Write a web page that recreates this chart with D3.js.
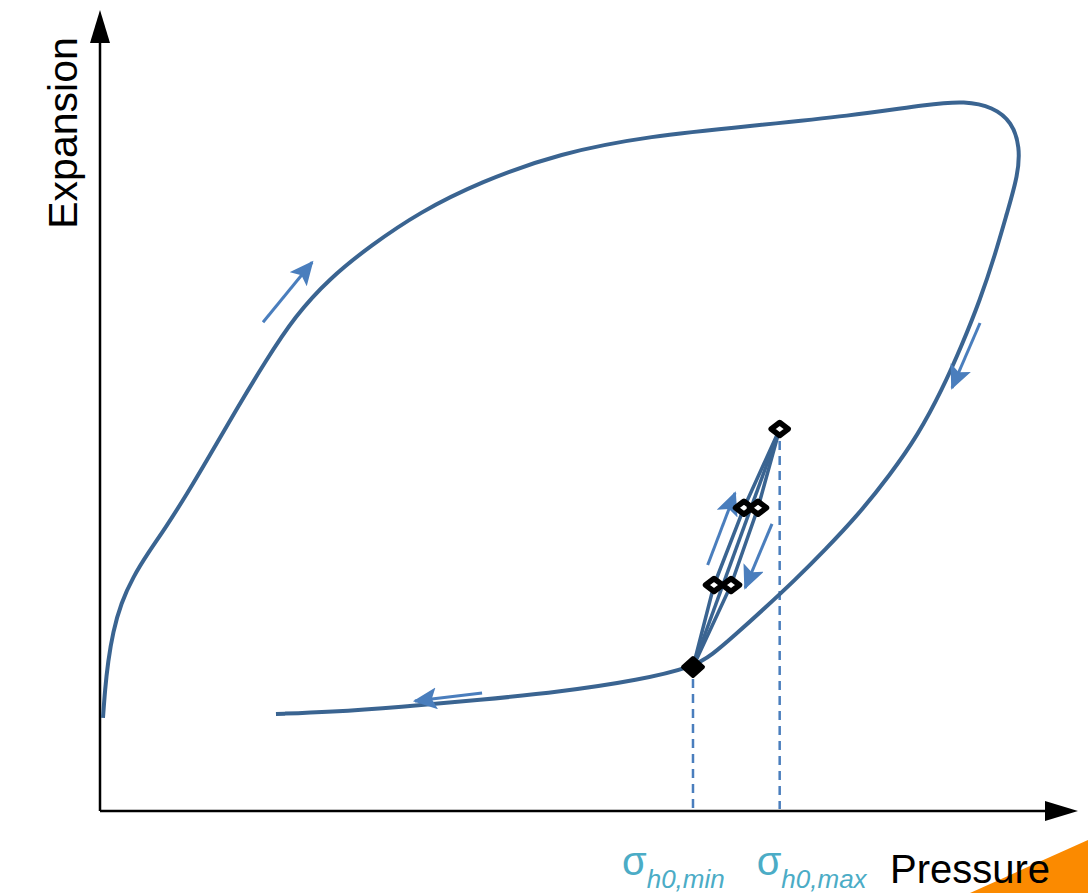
<!DOCTYPE html>
<html>
<head>
<meta charset="utf-8">
<script src="https://cdn.jsdelivr.net/npm/d3@7"></script>
<style>
  html, body { margin: 0; padding: 0; background: #fff; }
  svg { display: block; }
</style>
</head>
<body>
<svg id="chart" width="1088" height="893"></svg>
<script>
// ---- data (schematic units: pressure 0-100, expansion 0-100) ----
const loopPressure  = [0.31, 0.52, 0.83, 1.35, 2.19, 3.44, 5.0, 6.88, 9.06, 11.46, 14.17, 17.19, 20.31, 23.96, 28.13, 33.33, 39.58, 47.92, 57.29, 67.71, 78.13, 86.46, 90.1, 93.02, 95.0, 95.83, 95.63, 94.48, 93.23, 91.67, 89.79, 87.71, 85.21, 82.29, 78.96, 75.52, 72.4, 69.27, 66.15, 63.75, 61.77, 56.25, 47.92, 39.58, 31.25, 23.96, 18.33];
const loopExpansion = [11.63, 15.13, 18.63, 22.38, 26.0, 29.25, 32.25, 35.5, 39.63, 44.5, 50.13, 56.13, 61.88, 66.63, 70.63, 74.88, 78.63, 82.25, 84.38, 85.63, 86.88, 88.38, 88.75, 88.0, 86.13, 83.0, 79.5, 74.75, 69.5, 63.88, 58.25, 52.63, 47.0, 42.0, 37.0, 32.63, 28.88, 25.38, 22.0, 19.5, 18.0, 16.38, 14.88, 13.88, 13.0, 12.38, 12.13];

// minor loop reversal points: min, L1, R1, L2, R2, max
const reversalNames     = ["min", "L1", "R1", "L2", "R2", "max"];
const reversalPressure  = [61.77, 63.96, 65.73, 67.08, 68.54, 70.8];
const reversalExpansion = [18.0, 28.25, 28.25, 37.9, 37.9, 47.75];

// minor loop paths (indices into reversal arrays)
const minorPaths = [[0, 1, 3, 5], [5, 4, 2, 0], [0, 5]];

// stress markers on pressure axis
const sigmaLabels   = ["h0,min", "h0,max"];
const sigmaPressure = [61.77, 70.8];

// direction arrows: [p0, e0] -> [p1, e1]
const arrowP0 = [16.98, 91.67, 39.8, 63.3, 70.0];
const arrowE0 = [61.1, 61.0, 14.75, 30.75, 35.9];
const arrowP1 = [22.1, 88.75, 32.8, 66.15, 67.2];
const arrowE1 = [68.6, 52.9, 13.75, 39.75, 27.9];

const axisTitles = { x: "Pressure", y: "Expansion" };

// ---- drawing ----
const svg = d3.select("#chart");
const x = d3.scaleLinear().domain([0, 100]).range([100, 1060]);
const y = d3.scaleLinear().domain([0, 100]).range([811, 11]);

const curveColor = "#3a6491";
const arrowColor = "#4a7ebd";
const sigmaColor = "#4bacc6";

// orange corner
svg.append("path")
  .attr("d", "M970,893 L1088,840 L1088,893 Z")
  .attr("fill", "#fb8a00");

const defs = svg.append("defs");
defs.append("marker")
  .attr("id", "ah")
  .attr("markerUnits", "userSpaceOnUse")
  .attr("markerWidth", 26).attr("markerHeight", 24)
  .attr("refX", 22).attr("refY", 11)
  .attr("orient", "auto")
  .append("path")
  .attr("d", "M0,0 L24,11 L0,22 L5,11 Z")
  .attr("fill", arrowColor);

// axes
const ax = svg.append("g");
ax.append("line")
  .attr("x1", x(0)).attr("y1", y(0)).attr("x2", x(100) - 10).attr("y2", y(0))
  .attr("stroke", "#000").attr("stroke-width", 2.5);
ax.append("line")
  .attr("x1", x(0)).attr("y1", y(0)).attr("x2", x(0)).attr("y2", y(100) + 20)
  .attr("stroke", "#000").attr("stroke-width", 2.5);
ax.append("path")
  .attr("d", `M${x(100) - 15},${y(0) - 10} L${x(100) + 18},${y(0)} L${x(100) - 15},${y(0) + 10} Z`)
  .attr("fill", "#000");
ax.append("path")
  .attr("d", `M${x(0) - 10},${y(100) + 32} L${x(0)},${y(100) - 1} L${x(0) + 10},${y(100) + 32} Z`)
  .attr("fill", "#000");

// dashed stress lines
svg.selectAll(".sigline").data(sigmaPressure).enter().append("line")
  .attr("x1", d => x(d)).attr("x2", d => x(d))
  .attr("y1", (d, i) => i === 0 ? y(reversalExpansion[0]) + 12 : y(reversalExpansion[5]) + 12)
  .attr("y2", y(0) - 2)
  .attr("stroke", arrowColor).attr("stroke-width", 2.5)
  .attr("stroke-dasharray", "9,6");

// main hysteresis loop
const loopData = loopPressure.map((p, i) => [p, loopExpansion[i]]);
const line = d3.line().x(d => x(d[0])).y(d => y(d[1])).curve(d3.curveBasis);
svg.append("path")
  .datum(loopData)
  .attr("d", line)
  .attr("fill", "none")
  .attr("stroke", curveColor)
  .attr("stroke-width", 4)
  .attr("stroke-linecap", "butt");

// minor loops
const straight = d3.line().x(d => x(d[0])).y(d => y(d[1]));
svg.selectAll(".minor").data(minorPaths).enter().append("path")
  .attr("d", idx => straight(idx.map(i => [reversalPressure[i], reversalExpansion[i]])))
  .attr("fill", "none")
  .attr("stroke", curveColor)
  .attr("stroke-width", 3.5)
  .attr("stroke-linejoin", "round");

// direction arrows
svg.selectAll(".dir").data(arrowP0).enter().append("line")
  .attr("x1", (d, i) => x(arrowP0[i])).attr("y1", (d, i) => y(arrowE0[i]))
  .attr("x2", (d, i) => x(arrowP1[i])).attr("y2", (d, i) => y(arrowE1[i]))
  .attr("stroke", arrowColor).attr("stroke-width", 3)
  .attr("marker-end", "url(#ah)");

// reversal markers
const diamond = (cx, cy, hw, hh) => `M${cx - hw},${cy} L${cx},${cy - hh} L${cx + hw},${cy} L${cx},${cy + hh} Z`;
svg.selectAll(".rev").data(reversalNames).enter().append("path")
  .attr("d", (d, i) => d === "min"
     ? diamond(x(reversalPressure[i]), y(reversalExpansion[i]), 10, 9)
     : diamond(x(reversalPressure[i]), y(reversalExpansion[i]), 8.5, 6.5))
  .attr("fill", d => d === "min" ? "#000" : "#fff")
  .attr("stroke", "#000")
  .attr("stroke-width", d => d === "min" ? 4 : 5.5)
  .attr("stroke-linejoin", "round");

// axis titles
svg.append("text")
  .attr("transform", `translate(77,133) rotate(-90)`)
  .attr("text-anchor", "middle")
  .attr("font-family", "Liberation Sans, Arial, sans-serif")
  .attr("font-size", 41)
  .attr("fill", "#000")
  .text(axisTitles.y);
svg.append("text")
  .attr("x", 890).attr("y", 883)
  .attr("font-family", "Liberation Sans, Arial, sans-serif")
  .attr("font-size", 40)
  .attr("fill", "#000")
  .text(axisTitles.x);

// sigma labels
const sigmaOffset = [-71, -23];
sigmaLabels.forEach((lab, i) => {
  const t = svg.append("text")
    .attr("x", x(sigmaPressure[i]) + sigmaOffset[i])
    .attr("y", 875)
    .attr("font-family", "Liberation Sans, Arial, sans-serif")
    .attr("fill", sigmaColor);
  t.append("tspan").attr("font-size", 40).text("σ");
  t.append("tspan").attr("font-size", 26).attr("font-style", "italic").attr("dy", 13).text(lab);
});
</script>
</body>
</html>
